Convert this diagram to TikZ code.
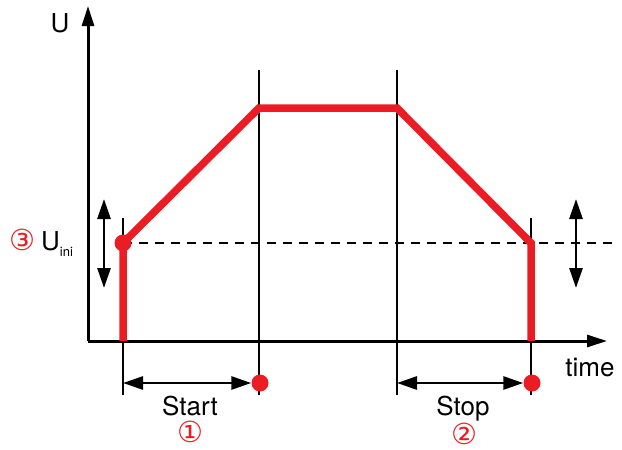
\documentclass[tikz,border=0pt]{standalone}
\usepackage{fontspec}
\setmainfont{TeX Gyre Heros}
\newfontfamily\circfont{DejaVu Sans}
\usetikzlibrary{arrows.meta, positioning, calc}
\definecolor{sigred}{RGB}{236,28,36}

\begin{document}
\begin{tikzpicture}[
  x=1pt, y=-1pt,
  axis/.style={line width=3pt, -{Triangle[length=20pt, width=12pt]}},
  guide/.style={line width=1.3pt},
  profile/.style={line width=7.5pt, draw=sigred, line join=miter},
  limit/.style={line width=2.8pt, dash pattern=on 9pt off 7pt},
  dim/.style={line width=2.8pt, {Triangle[length=20pt, width=13pt]}-{Triangle[length=20pt, width=13pt]}},
  lbl/.style={font=\fontsize{26}{30}\selectfont, inner sep=0pt, anchor=base},
  num/.style={font=\circfont\fontsize{29}{32}\selectfont, text=sigred, inner sep=0pt},
  dot/.style={circle, fill=sigred, minimum size=17pt, inner sep=0pt}
]
\useasboundingbox (0,0) rectangle (622,450);

% Key Points
\coordinate (origin) at (88,341);
\coordinate (ytip) at (88,6);
\coordinate (xtip) at (607,341);
\coordinate (rampstart) at (123,243);
\coordinate (rampend) at (259,108);
\coordinate (fallstart) at (397,108);
\coordinate (fallend) at (531,243);

% Axes
\draw[axis] (origin) -- (ytip);
\draw[axis] (origin) -- (xtip);
\node[lbl] (ulabel) at (60,32) {U};
\node[lbl] (tlabel) at (590,376) {time};

% Guide Lines
\draw[guide] (123,218) -- (123,395);
\draw[guide] (259,70) -- (259,395);
\draw[guide] (397,70) -- (397,395);
\draw[guide] (531,218) -- (531,395);

% Initial Voltage Level
\draw[limit] (rampstart) -- (618,243);
\draw[dim] (104,199) -- (104,288);
\draw[dim] (576,199) -- (576,288);

% Voltage Profile
\draw[profile] (123,341) -- (rampstart) -- (rampend) -- (fallstart) -- (fallend) -- (531,341);
\node[dot] (inidot) at (rampstart) {};

% Start / Stop Ranges
\node[dot] (startdot) at (260,383) {};
\node[dot] (stopdot) at (532,383) {};
\draw[dim] (123,383) -- (startdot.west);
\draw[dim] (397,383) -- (stopdot.west);

% Labels
\node[lbl] (start) at (190,415) {Start};
\node[num] (startnum) at (190,432) {①};
\node[lbl] (stop) at (463,415) {Stop};
\node[num] (stopnum) at (464,434) {②};
\node[num] (ininum) at (22,240) {③};
\node[lbl, anchor=base west] (uini) at (41,250) {U\raisebox{-6pt}{\fontsize{13}{13}\selectfont ini}};

\end{tikzpicture}
\end{document}
